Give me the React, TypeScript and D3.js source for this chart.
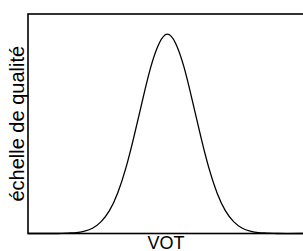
import React from "react";
import * as d3 from "d3";

const vot = [0, 10.5, 14.5, 17.5, 20.5, 23.5, 26.5, 29.5, 32.5, 35.5, 38.5, 41.5, 44.5, 47.5, 50.5, 53.5, 56.5, 59.5, 62.5, 65.5, 68.5, 71.5, 74.5, 77.5, 80.5, 83.5, 86.5, 90.5, 100];
const quality = [0, 0, 0.002, 0.004, 0.011, 0.025, 0.054, 0.104, 0.185, 0.300, 0.447, 0.608, 0.759, 0.866, 0.908, 0.866, 0.759, 0.608, 0.447, 0.300, 0.185, 0.104, 0.054, 0.025, 0.011, 0.004, 0.002, 0, 0];
const xLabel = "VOT";
const yLabel = "échelle de qualité";

export default function App() {
  const W = 303, H = 251;
  const left = 28, right = 304, top = 14, bottom = 233.5;
  const x = d3.scaleLinear().domain([0, 100]).range([left, right]);
  const y = d3.scaleLinear().domain([0, 1]).range([bottom, top]);
  const pts: [number, number][] = vot.map((v, i) => [v, quality[i]]);
  const line = d3.line<[number, number]>().x(d => x(d[0])).y(d => y(d[1])).curve(d3.curveNatural);
  const font = "'Liberation Sans', Arial, Helvetica, sans-serif";
  return (
    <svg width={W} height={H} style={{ position: "absolute", left: 0, top: 0, background: "#fff" }}>
      <rect x={left} y={top} width={right - left} height={bottom - top} fill="none" stroke="#000" strokeWidth={1.6} />
      <path d={line(pts) ?? ""} fill="none" stroke="#000" strokeWidth={1.3} />
      <text x={(left + right) / 2} y={249} textAnchor="middle" fontFamily={font} fontSize={18} fill="#000">{xLabel}</text>
      <text transform={`translate(24, ${(top + bottom) / 2}) rotate(-90)`} textAnchor="middle" fontFamily={font} fontSize={20} fill="#000">{yLabel}</text>
    </svg>
  );
}
